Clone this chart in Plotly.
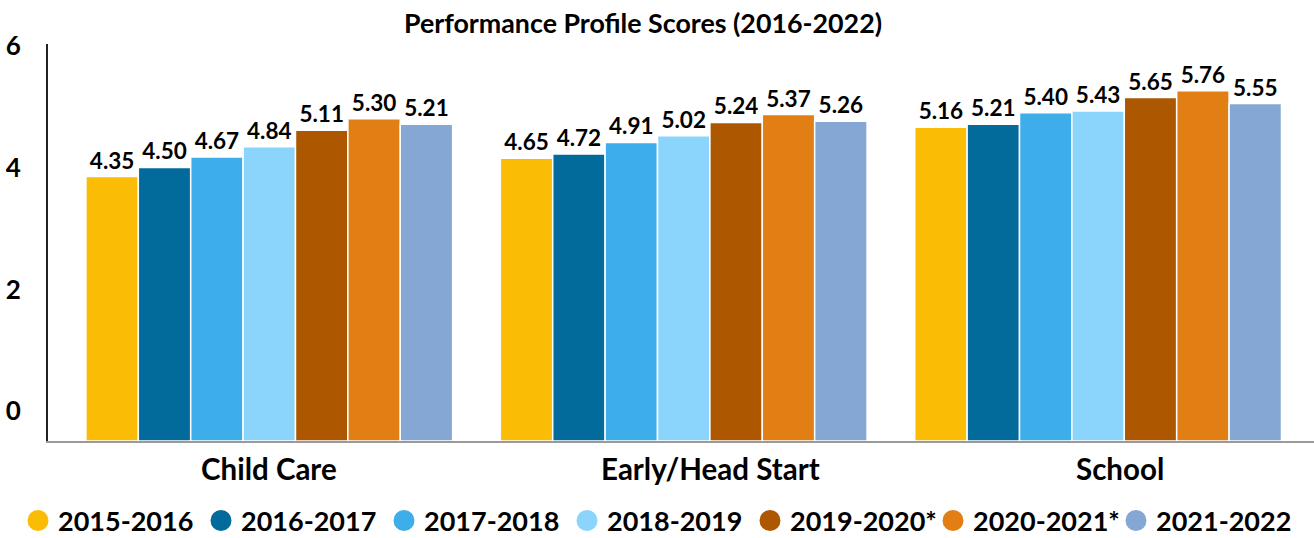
import plotly.graph_objects as go

categories = ["Child Care", "Early/Head Start", "School"]
years = ["2015-2016", "2016-2017", "2017-2018", "2018-2019", "2019-2020*", "2020-2021*", "2021-2022"]
scores = {
    "2015-2016": [4.35, 4.65, 5.16],
    "2016-2017": [4.50, 4.72, 5.21],
    "2017-2018": [4.67, 4.91, 5.40],
    "2018-2019": [4.84, 5.02, 5.43],
    "2019-2020*": [5.11, 5.24, 5.65],
    "2020-2021*": [5.30, 5.37, 5.76],
    "2021-2022": [5.21, 5.26, 5.55],
}
colors = ["#FBBC05", "#036B9C", "#3DAEE9", "#8BD4FC", "#AD5700", "#E17F15", "#84A8D3"]
y_ticks = [0, 2, 4, 6]
label_xshift = [0, 27, 22]

fig = go.Figure()
for yr, col in zip(years, colors):
    vals = scores[yr]
    fig.add_trace(go.Bar(
        x=categories, y=vals, name=yr, showlegend=False,
        marker=dict(color=col, line=dict(color="white", width=1.5)),
        text=[f"{v:.2f}" for v in vals], textposition="outside",
        textfont=dict(size=22.5, color="black", family="Lato", weight="bold"),
        cliponaxis=False,
    ))
for yr, col in zip(years, colors):
    fig.add_trace(go.Scatter(
        x=[None], y=[None], mode="markers", name=yr,
        marker=dict(symbol="circle", size=16, color=col, line=dict(color=col, width=5)),
    ))

for cat, dx in zip(categories, label_xshift):
    fig.add_annotation(x=cat, xref="x", y=0, yref="paper", yanchor="middle", yshift=-27,
                       xshift=dx, text=cat, showarrow=False,
                       font=dict(size=29.5, family="Lato", weight="bold", color="black"))

fig.update_layout(
    width=1314, height=538,
    margin=dict(l=48, r=0, t=44, b=97, autoexpand=False),
    plot_bgcolor="white", paper_bgcolor="white",
    font=dict(family="Lato", color="black", weight="bold"),
    barmode="group", bargap=0.115, bargroupgap=0,
    title=dict(text="Performance Profile Scores (2016-2022)", x=643/1314, xanchor="center",
               xref="container", y=1 - 24/538, yanchor="middle", yref="container",
               font=dict(size=26.8, family="Lato", weight="bold", color="black")),
    xaxis=dict(range=[-0.534, 2.521], showline=True, linecolor="#9a9a9a", linewidth=2,
               showgrid=False, ticks="", showticklabels=False),
    yaxis=dict(range=[0, 6.53], tickvals=y_ticks, showline=True, linecolor="#222222", linewidth=2,
               showgrid=False, zeroline=False, ticks="", ticklabelshift=-30, ticklabelstandoff=20,
               tickfont=dict(size=26, family="Lato", weight="bold")),
    legend=dict(orientation="h", xref="paper", yref="paper", x=-0.0237, y=-0.2015,
                yanchor="middle", xanchor="left", font=dict(size=27, family="Lato", weight="bold"),
                itemsizing="trace", tracegroupgap=0, entrywidth=138, entrywidthmode="pixels"),
)
fig.write_html("out.html")
